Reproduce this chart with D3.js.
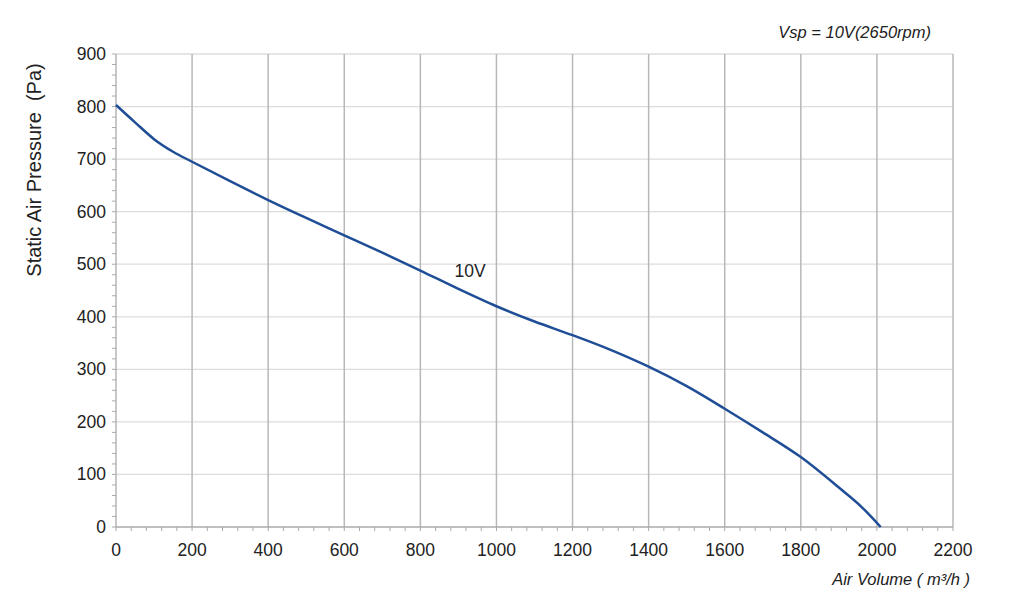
<!DOCTYPE html><html><head><meta charset="utf-8"><script src="https://cdn.jsdelivr.net/npm/d3@7"></script>
<style>body{margin:0;background:#fff}text{font-family:"Liberation Sans",Arial,sans-serif}</style></head><body><svg id="c" width="1024" height="614"></svg><script>
const airVolume=[0,50,100,150,200,300,400,500,600,700,800,900,1000,1100,1200,1300,1400,1500,1600,1700,1800,1900,1960,2010];
const pressure=[803,770,738,714,695,658,622,588,555,522,488,453,420,391,365,337,305,268,225,180,133,75,38,0];
const xTicks=d3.range(0,2201,200), yTicks=d3.range(0,901,100);
const svg=d3.select("#c");
const x=d3.scaleLinear([0,2200],[116,953]), y=d3.scaleLinear([0,900],[527,54]);
const g=svg.append("g");
g.selectAll(".hg").data(yTicks.slice(1)).join("line").attr("x1",x(0)).attr("x2",x(2200)).attr("y1",d=>y(d)).attr("y2",d=>y(d)).attr("stroke","#dcdcdc").attr("stroke-width",1.3);
g.selectAll(".vg").data(xTicks.slice(1)).join("line").attr("y1",y(0)).attr("y2",y(900)).attr("x1",d=>x(d)).attr("x2",d=>x(d)).attr("stroke","#b8b8b8").attr("stroke-width",1.5);
g.selectAll(".mx").data(d3.range(0,2201,40)).join("line").attr("x1",d=>x(d)).attr("x2",d=>x(d)).attr("y1",y(0)).attr("y2",y(0)+4).attr("stroke","#aaa");
g.selectAll(".my").data(d3.range(0,901,20)).join("line").attr("y1",d=>y(d)).attr("y2",d=>y(d)).attr("x1",x(0)-4).attr("x2",x(0)).attr("stroke","#aaa");
g.append("line").attr("x1",x(0)).attr("x2",x(2200)).attr("y1",y(0)).attr("y2",y(0)).attr("stroke","#aaa").attr("stroke-width",1.3);
g.append("line").attr("x1",x(0)).attr("x2",x(0)).attr("y1",y(0)).attr("y2",y(900)).attr("stroke","#aaa").attr("stroke-width",1.3);
g.selectAll(".xl").data(xTicks).join("text").attr("x",d=>x(d)).attr("y",y(0)+29).attr("text-anchor","middle").attr("font-size",17.5).attr("fill","#222").text(d=>d);
g.selectAll(".yl").data(yTicks).join("text").attr("x",x(0)-10).attr("y",d=>y(d)+6).attr("text-anchor","end").attr("font-size",17.5).attr("fill","#222").text(d=>d);
const line=d3.line().x(d=>x(d)).y((d,i)=>y(pressure[i])).curve(d3.curveMonotoneX);
g.append("path").attr("d",line(airVolume)).attr("fill","none").attr("stroke","#1f4e96").attr("stroke-width",2.5);
g.append("text").attr("x",x(890)).attr("y",y(476)).attr("font-size",17.5).attr("fill","#222").text("10V");
svg.append("text").attr("transform","translate(41,170) rotate(-90)").attr("text-anchor","middle").attr("font-size",20).attr("fill","#222").text("Static Air Pressure \u00a0(Pa)");
svg.append("text").attr("x",931).attr("y",38).attr("text-anchor","end").attr("font-size",16.5).attr("font-style","italic").attr("fill","#222").text("Vsp = 10V(2650rpm)");
svg.append("text").attr("x",970).attr("y",585).attr("text-anchor","end").attr("font-size",16.5).attr("font-style","italic").attr("fill","#222").text("Air Volume ( m³/h )");
</script></body></html>
